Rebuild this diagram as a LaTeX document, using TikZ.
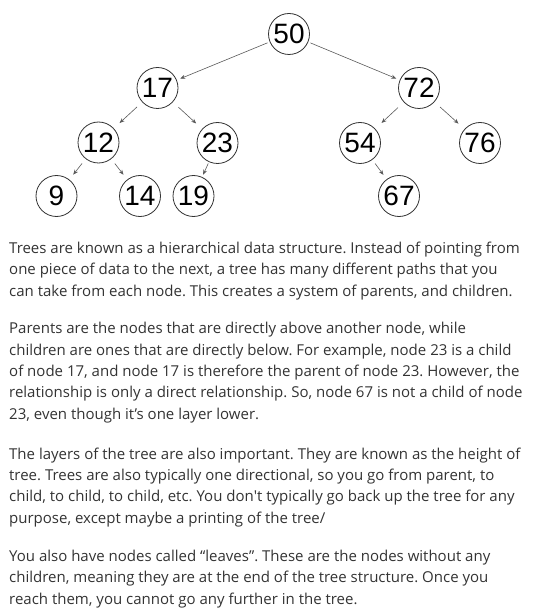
\documentclass[tikz,border=0pt]{standalone}
\usepackage{fontspec}
\usepackage{tikz}
\usetikzlibrary{arrows.meta}
\setmainfont{Open Sans}
\newfontfamily\treefont{Liberation Sans}
\definecolor{bodytext}{HTML}{333333}
\frenchspacing

\begin{document}
\begin{tikzpicture}[x=1pt,y=-1pt,
  key/.style={shape=circle,draw=black!80,line width=0.8pt,inner sep=0,minimum size=41pt,font=\treefont\fontsize{28}{28}\selectfont},
  edge/.style 2 args={draw=black!65,line width=0.6pt,-{Stealth[length=5pt,width=4pt]},shorten <=#1,shorten >=#2},
  para/.style={anchor=base west,inner sep=0,align=left,text=bodytext,font=\fontsize{15}{21.4}\selectfont}]
\useasboundingbox (0,0) rectangle (539,612);
% the tree
\node[key] (50) at (289,34) {50};
\node[key] (17) at (157.5,88) {17};
\node[key] (72) at (419,88) {72};
\node[key] (12) at (98.5,142.5) {12};
\node[key] (23) at (217.5,143) {23};
\node[key] (54) at (360,143) {54};
\node[key] (76) at (480,143) {76};
\node[key] (9) at (56.5,196) {9};
\node[key] (14) at (140,196) {14};
\node[key] (19) at (193.5,196) {19};
\node[key] (67) at (399,196) {67};
\draw[edge={2.3pt}{3.7pt}] (50)--(17);
\draw[edge={2.3pt}{3.7pt}] (50)--(72);
\draw[edge={7pt}{7.8pt}] (17)--(12);
\draw[edge={7.5pt}{8pt}] (17)--(23);
\draw[edge={7.8pt}{8.5pt}] (72)--(54);
\draw[edge={7.5pt}{8pt}] (72)--(76);
\draw[edge={5.8pt}{6.2pt}] (12)--(9);
\draw[edge={5.8pt}{6pt}] (12)--(14);
\draw[edge={1.5pt}{2.5pt}] (23)--(19);
\draw[edge={4.5pt}{5.3pt}] (54)--(67);
% the text (placed by the baseline of each last line)
\node[para] (p1) at (9,296) {Trees are known as a hierarchical data structure. Instead of pointing from\\
one piece of data to the next, a tree has many different paths that you\\
can take from each node. This creates a system of parents, and children.};
\node[para] (p2) at (9,419.3) {Parents are the nodes that are directly above another node, while\\
children are ones that are directly below. For example, node 23 is a child\\
of node 17, and node 17 is therefore the parent of node 23. However, the\\
relationship is only a direct relationship. So, node 67 is not a child of node\\
23, even though it’s one layer lower.};
\node[para] (p3) at (9,523.3) {The layers of the tree are also important. They are known as the height of\\
tree. Trees are also typically one directional, so you go from parent, to\\
child, to child, to child, etc. You don\textquotesingle t typically go back up the tree for any\\
purpose, except maybe a printing of the tree/};
\node[para] (p4) at (9,604) {You also have nodes called “leaves”. These are the nodes without any\\
children, meaning they are at the end of the tree structure. Once you\\
reach them, you cannot go any further in the tree.};
\end{tikzpicture}
\end{document}
